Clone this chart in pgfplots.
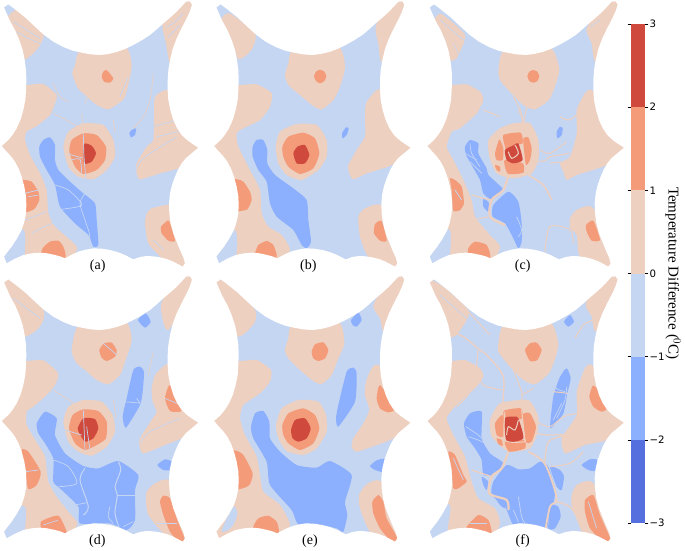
\documentclass[border=0pt]{standalone}
\usepackage{fontspec}
\setmainfont{Liberation Serif}
\newfontfamily\barfont{DejaVu Sans}
\usepackage{pgfplots}
\usepackage{pgfplotstable}
\pgfplotsset{compat=1.18}

\definecolor{c3}{RGB}{207,74,61}
\definecolor{c2}{RGB}{244,155,122}
\definecolor{c1}{RGB}{238,208,192}
\definecolor{c0}{RGB}{197,214,242}
\definecolor{m1}{RGB}{141,176,254}
\definecolor{m2}{RGB}{85,112,222}

% white ring round the map shape, in 3x pixels of the panel
\pgfplotstableread{
x y
-100 -100
730 -100
730 925
-100 925
-100 -100
12 22
25 13
40 24
75 52
105 80
130 103
160 125
190 141
218 152
245 158
272 163
300 165
325 162
350 156
375 147
400 135
425 121
450 105
470 88
490 70
510 53
530 35
545 19
558 5
570 4
576 14
570 33
560 55
545 84
530 115
518 147
510 180
505 210
503 240
503 270
505 300
511 330
520 360
531 384
545 405
560 419
575 430
595 443
575 460
558 474
545 490
534 509
525 530
516 555
510 580
507 610
508 640
512 670
520 700
530 725
540 750
550 772
555 790
548 800
535 793
520 785
500 777
480 772
460 769
440 768
420 771
400 778
388 772
375 765
352 756
330 750
305 746
280 745
257 749
235 755
215 764
195 775
180 769
165 765
142 760
120 758
95 760
70 765
45 776
20 790
12 770
23 755
35 740
50 717
65 690
73 665
78 640
79 615
78 590
73 560
65 530
56 506
45 485
33 469
20 455
5 438
14 430
25 420
38 404
50 385
62 358
70 330
76 300
78 270
79 240
78 210
74 180
68 150
58 120
45 90
30 63
12 22
-100 -100
}\outline

\pgfplotsset{
  panel/.style={
    at={#1}, anchor=north west, scale only axis, width=210pt, height=275pt,
    xmin=0, xmax=630, ymin=0, ymax=825, y dir=reverse, hide axis,
  },
  a3/.style={fill=c3, draw=none, smooth cycle, tension=0.35, forget plot},
  a2/.style={fill=c2, draw=none, smooth cycle, tension=0.35, forget plot},
  a1/.style={fill=c1, draw=none, smooth cycle, tension=0.35, forget plot},
  a0/.style={fill=c0, draw=none, smooth cycle, tension=0.45, forget plot},
  b1/.style={fill=m1, draw=none, smooth cycle, tension=0.35, forget plot},
  rv/.style={draw=c1, line width=#1, no markers, smooth, forget plot},
  rv/.default=1pt,
  rb/.style={draw=c0, line width=#1, no markers, smooth, forget plot},
  rb/.default=0.7pt,
}
\newcommand{\mapbase}{\addplot[fill=c0, draw=none] coordinates {(0,0) (630,0) (630,825) (0,825)} -- cycle;}
\newcommand{\mapmask}[1]{\addplot[fill=white, draw=none, even odd rule] table[x expr=\thisrowno{0}+#1, y index=1] {\outline} -- cycle;}
\newcommand{\maplabel}[2]{\node[font=\fontsize{14}{16}\selectfont] at (axis cs:#1,797) {#2};}

\begin{document}
\begin{tikzpicture}
\path[use as bounding box] (0pt,0pt) rectangle (685pt,-550pt);

% (a)
\begin{axis}[panel={(0pt,0pt)}]
\mapbase
\addplot[a1] coordinates {(15,60) (50,28) (75,45) (130,100) (120,135) (100,160) (75,178) (60,150) (40,100)};
\addplot[a1] coordinates {(488,70) (498,130) (510,190) (540,150) (600,0) (540,0)};
\addplot[a1] coordinates {(243,150) (375,140) (395,200) (375,290) (355,310) (325,328) (290,315) (255,285) (232,262) (217,220) (225,195)};
\addplot[a2] coordinates {(320,210) (340,235) (330,248) (312,245) (305,230) (310,215)};
\addplot[a1] coordinates {(78,255) (130,252) (170,285) (165,310) (150,345) (110,378) (80,395) (75,420) (90,465) (120,520) (140,570) (145,640) (165,680) (205,715) (232,745) (200,790) (80,790) (75,760) (72,690) (0,660) (0,250)};
\addplot[a2] coordinates {(72,540) (95,545) (115,575) (118,600) (105,625) (85,635) (40,640) (40,540)};
\addplot[a2] coordinates {(128,745) (150,725) (175,722) (190,740) (195,775) (120,790)};
\addplot[a1] coordinates {(465,290) (500,270) (560,300) (620,440) (560,480) (535,505) (480,520) (420,538) (410,520) (410,490) (440,440) (460,420) (462,350)};
\addplot[a1] coordinates {(440,640) (455,625) (500,615) (540,620) (590,800) (540,810) (490,778) (445,730) (435,670)};
\addplot[a2] coordinates {(495,668) (507,663) (525,722) (505,722) (485,700) (483,680)};
\addplot[a1] coordinates {(190,440) (205,395) (250,370) (310,375) (340,420) (345,470) (320,510) (280,538) (235,530) (205,500)};
\addplot[a2] coordinates {(208,455) (215,420) (250,400) (290,405) (318,440) (315,480) (290,510) (250,522) (225,500)};
\addplot[a3] coordinates {(252,432) (275,437) (288,460) (275,485) (252,490)};
\addplot[b1] coordinates {(118,440) (130,420) (150,412) (165,435) (165,480) (175,510) (210,545) (250,580) (285,610) (290,660) (295,735) (280,740) (265,705) (225,670) (180,620) (165,555) (140,510) (120,470)};
\addplot[b1] coordinates {(395,390) (408,385) (405,405) (393,412) (388,400)};
\addplot[rb] coordinates {(165,555) (205,570) (245,610) (235,620) (185,628)};
\addplot[rb] coordinates {(255,580) (240,610) (255,660) (268,700) (270,730)};
\addplot[rb] coordinates {(250,400) (252,470) (258,540)};
\addplot[rb] coordinates {(205,462) (250,475)};
\addplot[rb] coordinates {(215,480) (240,478) (245,520)};
\addplot[rb] coordinates {(40,65) (80,90) (120,115)};
\addplot[rb] coordinates {(50,95) (85,115) (120,130)};
\addplot[rb] coordinates {(410,510) (430,475) (530,410)};
\addplot[rb] coordinates {(460,380) (530,360)};
\addplot[rb] coordinates {(470,410) (555,390)};
\addplot[rb] coordinates {(75,580) (115,570)};
\addplot[rb] coordinates {(85,590) (115,585)};
\addplot[rb] coordinates {(75,660) (140,635)};
\addplot[rb] coordinates {(95,700) (160,670) (195,695)};
\addplot[rb] coordinates {(500,80) (520,70) (550,40)};
\addplot[rb] coordinates {(505,110) (540,75)};
\addplot[rb] coordinates {(460,720) (490,750)};
\addplot[rb] coordinates {(360,290) (385,230)};
\addplot[rv=0.6pt] coordinates {(160,250) (180,290) (205,305)};
\addplot[rv=0.6pt] coordinates {(160,340) (245,385)};
\addplot[rv=0.6pt] coordinates {(245,340) (248,380)};
\addplot[rv=0.6pt] coordinates {(340,360) (345,400)};
\addplot[rv=0.6pt] coordinates {(265,280) (255,310)};
\addplot[rv=0.6pt] coordinates {(460,220) (450,300) (430,350) (400,385)};
\mapmask{0}
\maplabel{293}{(a)}
\end{axis}

% (b)
\begin{axis}[panel={(210pt,0pt)}]
\mapbase
\addplot[a1] coordinates {(35,55) (60,40) (135,100) (130,140) (110,165) (85,178) (70,140) (50,90)};
\addplot[a1] coordinates {(497,80) (505,130) (518,185) (600,0) (540,0)};
\addplot[a1] coordinates {(250,150) (385,140) (405,200) (390,260) (370,300) (335,328) (310,318) (270,285) (235,255) (225,225) (235,190)};
\addplot[a2] coordinates {(312,229) (318,215) (330,209) (343,215) (349,229) (343,243) (330,250) (318,243)};
\addplot[a1] coordinates {(90,255) (140,253) (185,280) (180,320) (150,360) (100,385) (80,400) (85,440) (120,510) (150,570) (155,640) (175,680) (215,705) (240,750) (200,790) (85,790) (82,730) (75,690) (0,650) (0,255)};
\addplot[a2] coordinates {(82,538) (100,545) (120,575) (125,600) (112,628) (90,633) (40,640) (40,540)};
\addplot[a2] coordinates {(135,760) (145,735) (170,723) (190,735) (200,765) (192,785) (130,790)};
\addplot[a1] coordinates {(468,310) (495,275) (520,275) (610,440) (555,490) (535,500) (470,520) (430,538) (418,520) (415,495) (440,450) (465,410) (465,350)};
\addplot[a1] coordinates {(445,650) (465,625) (520,620) (600,800) (550,810) (475,770) (450,710)};
\addplot[a2] coordinates {(495,672) (515,663) (530,722) (510,722) (492,700)};
\addplot[a1] coordinates {(197,440) (210,395) (260,372) (320,375) (350,420) (350,470) (325,510) (275,540) (230,525) (205,490)};
\addplot[a2] coordinates {(217,440) (235,410) (280,398) (315,415) (328,460) (310,505) (270,522) (235,500) (220,470)};
\addplot[a3] coordinates {(250,460) (262,440) (285,435) (298,465) (285,490) (260,490)};
\addplot[b1] coordinates {(128,440) (140,420) (160,420) (172,450) (172,490) (195,525) (250,565) (290,600) (295,660) (303,725) (290,745) (275,735) (250,690) (200,650) (180,610) (170,545) (145,510) (128,470)};
\addplot[b1] coordinates {(408,382) (416,385) (410,405) (398,415) (396,400)};
\mapmask{7}
\maplabel{295}{(b)}
\end{axis}

% (c)
\begin{axis}[panel={(420pt,0pt)}]
\mapbase
\addplot[a1] coordinates {(45,55) (65,42) (135,105) (110,175) (90,180) (70,130) (50,90)};
\addplot[a1] coordinates {(500,85) (515,130) (530,185) (620,0) (560,0)};
\addplot[a1] coordinates {(253,150) (388,140) (418,210) (390,295) (345,328) (310,315) (265,270) (240,240) (235,210)};
\addplot[a2] coordinates {(322,229) (328,215) (340,210) (352,215) (358,229) (352,243) (340,248) (328,243)};
\addplot[a1] coordinates {(95,255) (140,253) (180,275) (190,300) (170,340) (120,385) (95,395) (80,440) (100,480) (130,540) (155,600) (165,650) (205,700) (240,740) (210,790) (95,790) (90,690) (0,650) (0,255)};
\addplot[a2] coordinates {(90,535) (105,540) (125,560) (132,610) (120,630) (100,632) (95,570)};
\addplot[a2] coordinates {(145,745) (165,725) (200,735) (210,775) (145,790)};
\addplot[a1] coordinates {(470,330) (495,280) (520,275) (620,440) (560,495) (470,525) (440,540) (430,515) (420,490) (450,470) (470,400)};
\addplot[a1] coordinates {(450,655) (470,630) (520,625) (610,800) (560,810) (480,770) (470,705) (450,685)};
\addplot[a2] coordinates {(498,675) (520,662) (540,720) (515,722) (500,695)};
\addplot[a1] coordinates {(205,420) (240,385) (280,370) (330,370) (355,420) (355,480) (335,520) (280,535) (230,520) (208,470)};
\addplot[a2] coordinates {(225,460) (238,418) (250,445) (248,480) (230,480)};
\addplot[a2] coordinates {(250,405) (302,398) (308,430) (285,435) (260,455) (255,440)};
\addplot[a2] coordinates {(310,415) (325,412) (335,445) (330,480) (318,495) (312,450)};
\addplot[a2] coordinates {(255,480) (308,490) (310,518) (265,522) (255,500)};
\addplot[a2] coordinates {(225,495) (240,500) (240,515) (230,510)};
\addplot[a3] coordinates {(255,450) (282,435) (295,430) (308,480) (280,490) (260,480)};
\addplot[b1] coordinates {(135,440) (150,420) (175,430) (175,460) (200,505) (205,525) (250,570) (215,598) (190,580) (180,540) (155,495) (138,465)};
\addplot[b1] coordinates {(220,615) (265,575) (295,605) (305,670) (305,725) (295,745) (280,715) (255,670) (218,650)};
\addplot[b1] coordinates {(190,595) (208,610) (205,635) (190,620)};
\addplot[b1] coordinates {(410,395) (420,380) (428,385) (425,405) (412,415)};
\addplot[rv=2.2pt] coordinates {(265,525) (250,570) (215,600) (210,650) (255,675)};
\addplot[rv=1.3pt] coordinates {(155,585) (190,595) (215,600)};
\addplot[rv=1.5pt] coordinates {(325,525) (370,555) (395,600)};
\addplot[rv] coordinates {(265,455) (275,475) (295,460) (285,435)};
\addplot[rv] coordinates {(295,330) (315,370)};
\addplot[rv] coordinates {(280,290) (305,340) (305,370)};
\addplot[rv] coordinates {(320,320) (310,370)};
\addplot[rv] coordinates {(190,330) (240,350)};
\addplot[rv] coordinates {(420,350) (445,360) (470,345)};
\addplot[rv] coordinates {(355,485) (380,480) (390,470) (450,460)};
\addplot[rv] coordinates {(390,490) (435,485)};
\addplot[rv] coordinates {(360,450) (390,460) (440,425)};
\addplot[rv] coordinates {(375,755) (390,680) (450,690) (460,730)};
\addplot[rv] coordinates {(160,660) (205,650)};
\addplot[rv] coordinates {(90,705) (150,710) (205,695)};
\addplot[rv] coordinates {(95,750) (145,740)};
\addplot[rb] coordinates {(150,430) (155,460) (180,500)};
\addplot[rb] coordinates {(135,460) (170,480)};
\addplot[rb] coordinates {(150,485) (185,520)};
\addplot[rb] coordinates {(290,650) (305,690) (295,710)};
\addplot[rb] coordinates {(310,610) (305,630)};
\addplot[rb] coordinates {(60,60) (130,120)};
\addplot[rb] coordinates {(100,130) (125,180)};
\addplot[rb] coordinates {(510,80) (540,60)};
\addplot[rb] coordinates {(105,570) (125,600)};
\mapmask{17}
\maplabel{308}{(c)}
\end{axis}

% (d)
\begin{axis}[panel={(0pt,-275pt)}]
\mapbase
\addplot[a1] coordinates {(0,0) (60,30) (130,105) (128,140) (110,165) (75,185) (60,150) (0,60)};
\addplot[a1] coordinates {(483,88) (505,165) (600,0) (540,0)};
\addplot[a1] coordinates {(238,150) (375,140) (395,195) (375,260) (360,300) (325,328) (290,315) (255,285) (228,262) (215,225)};
\addplot[a2] coordinates {(298,225) (312,205) (335,203) (350,225) (345,245) (320,258) (305,248)};
\addplot[a1] coordinates {(78,258) (130,256) (175,295) (165,330) (140,360) (100,395) (80,410) (80,450) (115,510) (135,545) (145,620) (170,665) (205,710) (232,745) (200,790) (80,790) (75,770) (75,695) (0,660) (0,258)};
\addplot[a2] coordinates {(65,525) (85,530) (122,590) (110,630) (85,642) (75,590)};
\addplot[a2] coordinates {(123,740) (175,722) (200,770) (190,780) (130,775)};
\addplot[a1] coordinates {(465,300) (490,275) (510,275) (600,440) (555,485) (495,510) (430,535) (418,510) (420,490) (455,435) (470,410) (458,380) (455,340)};
\addplot[a2] coordinates {(495,370) (510,330) (550,395) (540,410) (510,408)};
\addplot[a1] coordinates {(440,650) (465,625) (510,620) (590,800) (540,810) (490,775) (445,720) (438,680)};
\addplot[a2] coordinates {(480,680) (490,662) (510,670) (530,730) (555,795) (540,805) (510,770) (490,720)};
\addplot[a1] coordinates {(190,440) (205,395) (250,375) (305,380) (338,420) (345,470) (320,515) (275,542) (235,530) (205,500)};
\addplot[a2] coordinates {(207,460) (218,420) (250,403) (295,408) (320,440) (318,490) (290,510) (255,525) (225,505)};
\addplot[a3] coordinates {(233,460) (250,430) (285,432) (295,460) (280,490) (255,500) (240,478)};
\addplot[b1] coordinates {(110,445) (135,410) (170,430) (165,480) (195,535) (250,573) (295,580) (355,558) (415,600) (405,645) (405,735) (380,765) (330,745) (240,745) (235,695) (180,640) (160,620) (160,550) (135,505) (115,475)};
\addplot[b1] coordinates {(414,135) (437,115) (452,140) (435,158)};
\addplot[b1] coordinates {(368,425) (380,370) (400,285) (420,275) (432,290) (428,350) (420,390) (378,458)};
\addplot[b1] coordinates {(472,570) (495,553) (515,560) (510,585) (490,585)};
\addplot[rb] coordinates {(160,555) (205,575) (230,625) (175,635)};
\addplot[rb=1pt] coordinates {(255,580) (240,615) (265,695) (250,720)};
\addplot[rb=1pt] coordinates {(355,560) (362,585) (345,635) (352,660) (345,715) (360,765)};
\addplot[rb] coordinates {(352,660) (405,660)};
\addplot[rb] coordinates {(225,690) (260,683)};
\addplot[rb] coordinates {(330,695) (325,725) (340,745)};
\addplot[rb] coordinates {(370,755) (400,740)};
\addplot[rb] coordinates {(372,380) (430,385)};
\addplot[rb] coordinates {(410,370) (420,385)};
\addplot[rb] coordinates {(250,405) (255,525)};
\addplot[rb] coordinates {(195,465) (245,480)};
\addplot[rb] coordinates {(260,455) (270,525)};
\addplot[rb] coordinates {(40,70) (120,130)};
\addplot[rb] coordinates {(420,505) (450,470) (540,430)};
\addplot[rb] coordinates {(495,370) (530,385)};
\addplot[rb] coordinates {(75,590) (115,585)};
\addplot[rb] coordinates {(130,750) (175,735)};
\addplot[rb] coordinates {(470,745) (530,745)};
\addplot[rb] coordinates {(310,205) (350,240)};
\addplot[rv=0.6pt] coordinates {(160,345) (230,390)};
\addplot[rv=0.6pt] coordinates {(340,375) (348,430)};
\addplot[rv=0.6pt] coordinates {(460,230) (445,300)};
\mapmask{0}
\maplabel{292}{(d)}
\end{axis}

% (e)
\begin{axis}[panel={(210pt,-275pt)}]
\mapbase
\addplot[a1] coordinates {(0,0) (60,30) (135,105) (135,140) (110,170) (85,185) (65,150) (0,60)};
\addplot[a1] coordinates {(490,90) (510,130) (525,168) (600,0) (545,0)};
\addplot[a1] coordinates {(248,150) (385,140) (403,205) (385,250) (365,300) (335,327) (310,318) (270,285) (235,250) (225,225) (235,190)};
\addplot[a2] coordinates {(305,230) (315,208) (340,202) (355,225) (345,250) (325,258) (310,250)};
\addplot[a1] coordinates {(90,258) (140,255) (183,285) (180,320) (150,355) (100,390) (90,430) (105,480) (140,545) (150,600) (160,650) (210,690) (240,750) (200,790) (30,810) (0,660) (0,258)};
\addplot[a0] coordinates {(35,765) (70,695) (82,715) (70,750) (50,768)};
\addplot[a2] coordinates {(78,527) (100,540) (128,595) (118,630) (90,642) (40,640) (40,530)};
\addplot[a2] coordinates {(130,755) (145,730) (175,722) (200,740) (207,770) (190,790) (130,790)};
\addplot[a1] coordinates {(468,320) (485,280) (510,275) (605,440) (550,490) (500,510) (440,530) (425,515) (430,490) (460,445) (478,405) (465,360)};
\addplot[a2] coordinates {(500,370) (510,330) (555,400) (535,412) (510,400)};
\addplot[a1] coordinates {(447,660) (470,628) (515,622) (600,800) (550,810) (480,770) (450,700)};
\addplot[a2] coordinates {(487,680) (505,660) (520,680) (530,730) (562,790) (545,800) (510,760) (490,715)};
\addplot[a1] coordinates {(198,450) (215,400) (265,375) (325,380) (348,420) (350,470) (320,520) (280,540) (230,528) (205,490)};
\addplot[a2] coordinates {(217,450) (235,415) (280,400) (315,420) (328,460) (310,505) (270,525) (235,505) (220,480)};
\addplot[a3] coordinates {(243,465) (255,435) (285,430) (302,460) (290,490) (265,500) (248,490)};
\addplot[b1] coordinates {(123,455) (135,415) (160,408) (178,440) (180,490) (210,530) (260,570) (320,578) (360,558) (425,600) (405,680) (412,720) (400,770) (380,760) (330,750) (265,748) (245,705) (180,630) (170,560) (130,490)};
\addplot[b1] coordinates {(423,135) (445,113) (455,135) (440,155) (428,150)};
\addplot[b1] coordinates {(378,430) (385,390) (410,290) (430,278) (440,295) (435,380) (385,455)};
\addplot[b1] coordinates {(480,573) (500,556) (525,552) (520,590) (495,585)};
\mapmask{7}
\maplabel{300}{(e)}
\end{axis}

% (f)
\begin{axis}[panel={(420pt,-275pt)}]
\mapbase
\addplot[a1] coordinates {(0,0) (70,35) (145,105) (140,135) (110,180) (90,185) (70,135) (0,50)};
\addplot[a1] coordinates {(497,85) (515,125) (530,168) (620,0) (555,0)};
\addplot[a1] coordinates {(253,150) (388,140) (415,210) (390,290) (345,328) (310,315) (265,270) (235,230) (235,205)};
\addplot[a2] coordinates {(315,225) (330,205) (350,203) (365,225) (352,255) (330,258)};
\addplot[a1] coordinates {(95,258) (135,255) (180,280) (190,305) (170,335) (125,375) (100,400) (80,430) (100,480) (135,545) (155,620) (175,670) (225,700) (240,745) (210,790) (85,790) (90,690) (0,650) (0,258)};
\addplot[a2] coordinates {(85,530) (105,540) (130,600) (140,620) (115,640) (100,640) (95,580)};
\addplot[a2] coordinates {(140,755) (175,720) (205,735) (215,770) (205,780) (140,770)};
\addplot[a1] coordinates {(470,350) (495,280) (520,275) (620,440) (560,495) (495,510) (435,535) (425,490) (470,420)};
\addplot[a2] coordinates {(508,365) (518,332) (530,340) (565,395) (545,410) (520,395)};
\addplot[a1] coordinates {(455,660) (470,630) (520,625) (610,800) (560,810) (490,775) (475,745) (455,690)};
\addplot[a2] coordinates {(495,675) (520,660) (540,720) (570,790) (550,800) (510,760) (495,710)};
\addplot[a1] coordinates {(210,435) (240,385) (325,375) (355,425) (352,475) (330,520) (265,530) (215,485)};
\addplot[a2] coordinates {(225,445) (245,420) (253,435) (250,485) (230,480)};
\addplot[a2] coordinates {(252,407) (302,400) (308,430) (255,435)};
\addplot[a2] coordinates {(255,500) (312,495) (315,520) (268,530)};
\addplot[a2] coordinates {(308,420) (330,415) (348,455) (335,500) (318,500)};
\addplot[a2] coordinates {(230,490) (245,495) (248,513) (235,507)};
\addplot[a3] coordinates {(255,430) (285,425) (295,430) (310,490) (260,500)};
\addplot[b1] coordinates {(220,620) (260,570) (295,583) (330,580) (360,560) (385,575) (405,645) (400,685) (385,705) (380,760) (320,755) (280,750) (255,695) (215,660)};
\addplot[b1] coordinates {(132,445) (150,415) (185,410) (185,490) (210,535) (250,565) (220,600) (190,600) (185,555) (165,520) (140,485)};
\addplot[b1] coordinates {(185,605) (205,620) (200,645) (190,630)};
\addplot[b1] coordinates {(225,665) (255,680) (255,700) (240,690)};
\addplot[b1] coordinates {(390,455) (400,365) (420,305) (440,280) (452,310) (442,355) (430,415) (400,453)};
\addplot[b1] coordinates {(390,575) (420,585) (432,605) (425,645) (410,635)};
\addplot[b1] coordinates {(390,690) (415,695) (422,725) (405,760) (385,760)};
\addplot[b1] coordinates {(485,570) (510,553) (532,555) (525,587) (505,585)};
\addplot[b1] coordinates {(432,140) (450,120) (462,140) (445,155)};
\addplot[rv=2.2pt] coordinates {(265,530) (245,580) (215,605) (208,655) (260,675) (265,705)};
\addplot[rv=1.3pt] coordinates {(155,585) (215,605)};
\addplot[rv=1.8pt] coordinates {(325,530) (370,560) (395,615) (410,675) (390,695) (377,760)};
\addplot[rv=1.3pt] coordinates {(410,680) (450,695) (470,725)};
\addplot[rv=1.3pt] coordinates {(245,405) (250,305) (200,240) (180,225) (130,185) (90,170)};
\addplot[rv] coordinates {(175,225) (170,285) (190,330) (245,345)};
\addplot[rv] coordinates {(280,285) (305,350) (305,375)};
\addplot[rv] coordinates {(340,340) (305,360)};
\addplot[rv=1.2pt] coordinates {(350,475) (380,480) (435,480) (385,500) (375,560)};
\addplot[rv] coordinates {(350,440) (390,455) (430,425) (475,415)};
\addplot[rv] coordinates {(390,575) (450,565) (490,530)};
\addplot[rv] coordinates {(465,190) (490,150) (520,135)};
\addplot[rv] coordinates {(165,325) (140,365) (110,395)};
\addplot[rv] coordinates {(255,410) (255,495) (315,500)};
\addplot[rv] coordinates {(305,405) (315,500)};
\addplot[rv] coordinates {(260,480) (265,455) (285,465) (295,435)};
\addplot[rv] coordinates {(145,110) (210,180)};
\addplot[rv] coordinates {(400,350) (445,355)};
\addplot[rb] coordinates {(138,455) (175,480) (185,490)};
\addplot[rb] coordinates {(145,485) (195,505) (225,545)};
\addplot[rb] coordinates {(295,665) (305,725) (315,745)};
\addplot[rb] coordinates {(280,705) (295,740)};
\addplot[rb] coordinates {(410,430) (435,375) (440,335)};
\addplot[rb] coordinates {(430,285) (405,335) (435,350)};
\addplot[rb] coordinates {(425,385) (400,435)};
\addplot[rb] coordinates {(60,60) (140,130)};
\addplot[rb] coordinates {(505,680) (530,760)};
\addplot[rb] coordinates {(100,550) (130,615)};
\addplot[rb] coordinates {(150,745) (200,745)};
\mapmask{17}
\maplabel{308}{(f)}
\end{axis}

% colour bar
\begin{axis}[
  at={(630.7pt,-24pt)}, anchor=north west, scale only axis, width=14.6pt, height=499pt,
  xmin=0, xmax=1, ymin=-3, ymax=3,
  xtick=\empty, ytick={-3,-2,-1,0,1,2,3},
  yticklabels={−3,−2,−1,0,1,2,3},
  yticklabel pos=right, tick align=outside, major tick length=3pt,
  tick style={black, line width=0.5pt},
  axis line style={draw=none},
  yticklabel style={font=\barfont\fontsize{10.2}{12}\selectfont, inner sep=1pt},
  ylabel={Temperature Difference ($^{0}$C)},
  ylabel style={font=\fontsize{15}{17}\selectfont, rotate=180, at={(axis description cs:2.9,0.5)}, anchor=center},
]
\addplot[fill=m2, draw=none] coordinates {(0,-3) (1,-3) (1,-2) (0,-2)} -- cycle;
\addplot[fill=m1, draw=none] coordinates {(0,-2) (1,-2) (1,-1) (0,-1)} -- cycle;
\addplot[fill=c0, draw=none] coordinates {(0,-1) (1,-1) (1,0) (0,0)} -- cycle;
\addplot[fill=c1, draw=none] coordinates {(0,0) (1,0) (1,1) (0,1)} -- cycle;
\addplot[fill=c2, draw=none] coordinates {(0,1) (1,1) (1,2) (0,2)} -- cycle;
\addplot[fill=c3, draw=none] coordinates {(0,2) (1,2) (1,3) (0,3)} -- cycle;
\end{axis}
\end{tikzpicture}
\end{document}
